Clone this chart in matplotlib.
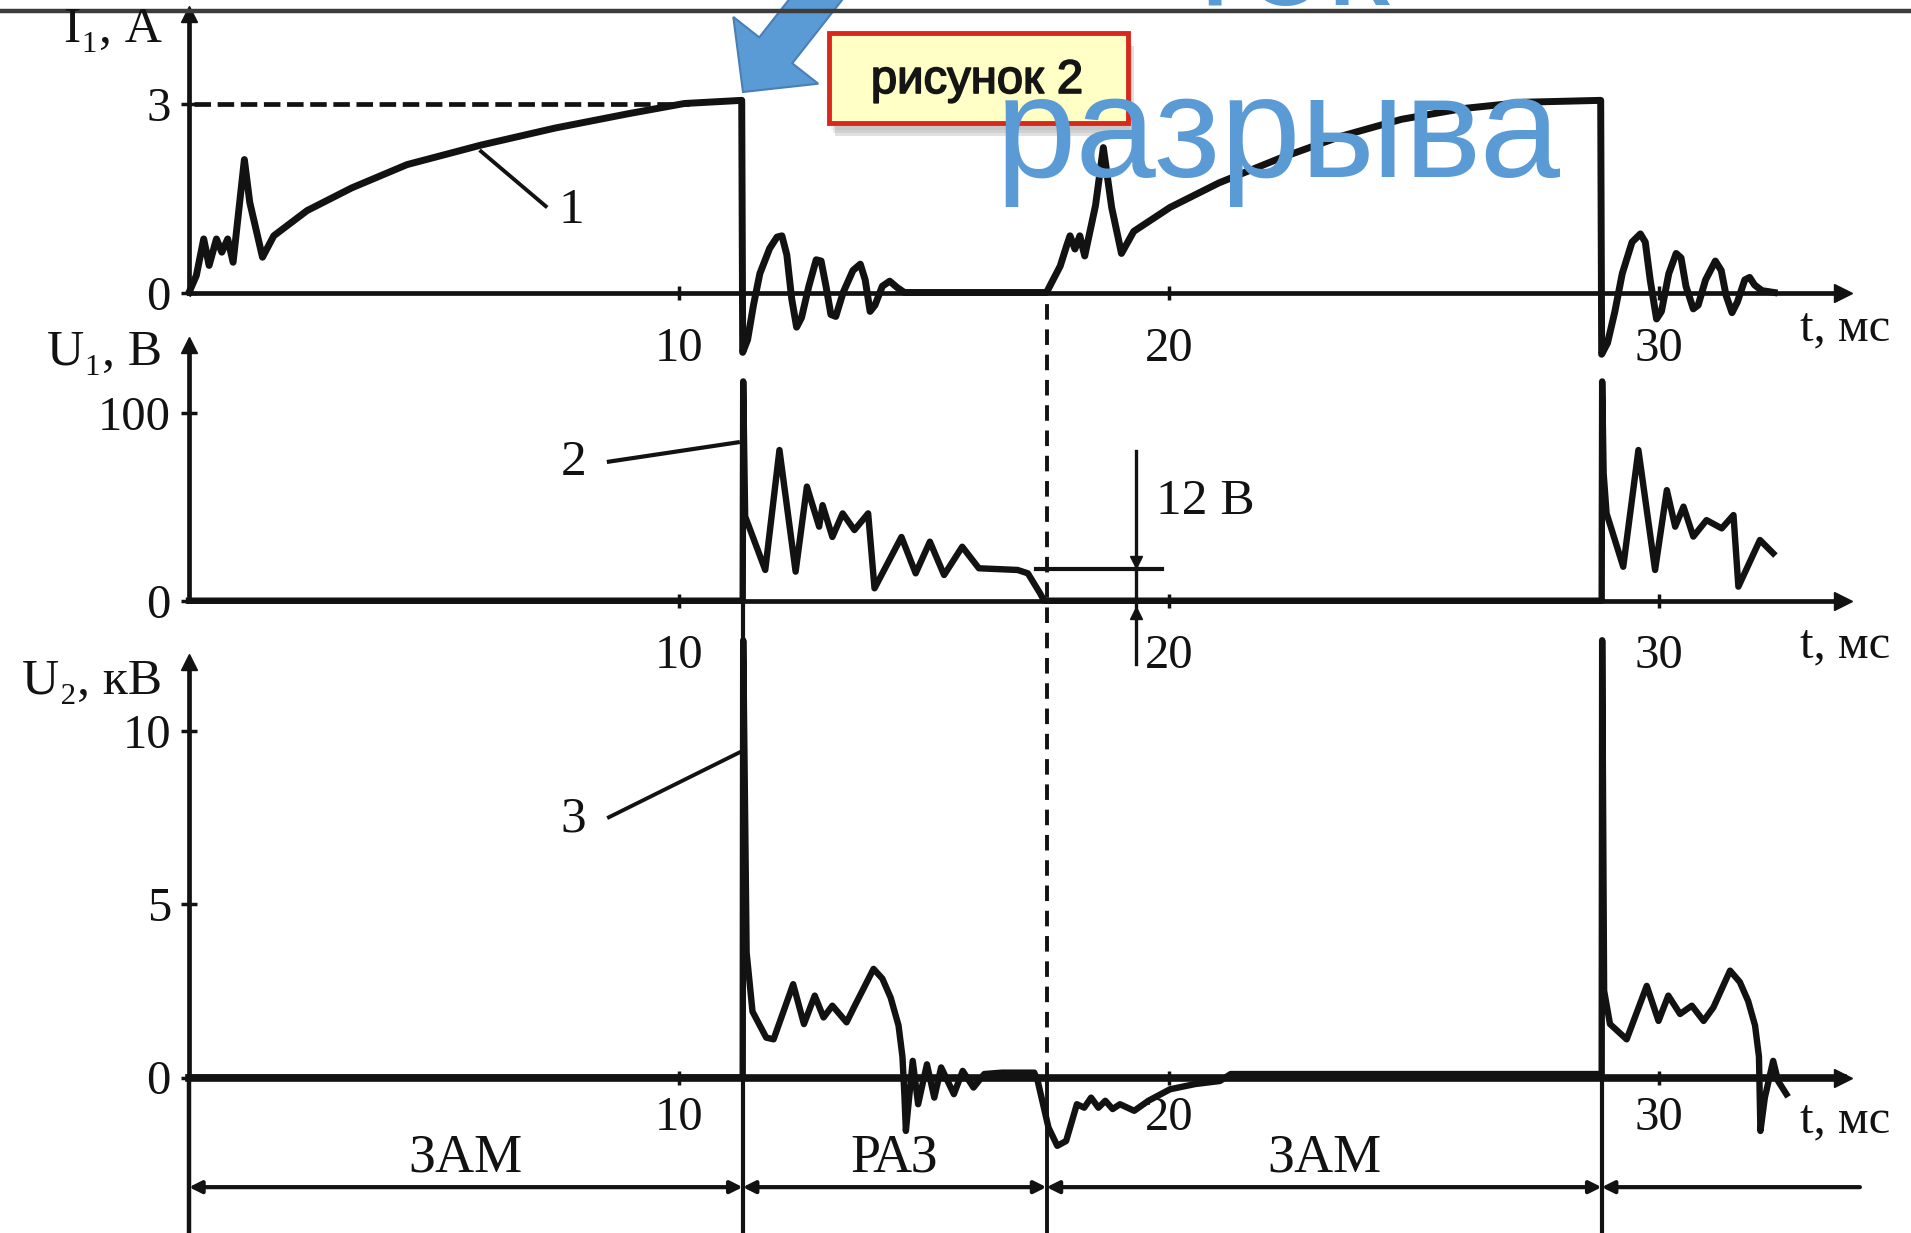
import numpy as np
import matplotlib.pyplot as plt
import matplotlib.patheffects as pe
from matplotlib.patches import Polygon, Rectangle

plt.rcParams["font.family"] = ["Liberation Serif", "DejaVu Serif"]

W, H = 1911, 1233

# switching moments, ms
t_switch = [0.0, 11.3, 17.5, 28.83]
t_axis_end = 33.75
t_bar_end = 34.1
phases = ["ЗАМ", "РАЗ", "ЗАМ"]

# curve 1 - I1, A
i1_t = [0.0, 0.15, 0.30, 0.41, 0.56, 0.67, 0.79, 0.90, 1.13, 1.24, 1.50, 1.73,
        2.41, 3.32, 4.45, 5.96, 7.47, 8.98, 10.11, 11.28,
        11.30, 11.40, 11.52, 11.65, 11.85, 12.00, 12.10, 12.20, 12.30, 12.40,
        12.50, 12.65, 12.80, 12.90, 13.00, 13.10, 13.20, 13.35, 13.55, 13.70,
        13.80, 13.90, 14.00, 14.15, 14.30, 14.45, 14.60, 17.50,
        17.78, 17.91, 17.98, 18.08, 18.18, 18.28, 18.50, 18.66, 18.83, 19.03,
        19.28, 20.02, 21.02, 22.26, 23.51, 24.75, 26.00, 27.24, 28.81,
        28.83, 28.95, 29.10, 29.25, 29.45, 29.62, 29.72, 29.82, 29.95, 30.05,
        30.20, 30.35, 30.45, 30.55, 30.70, 30.80, 30.95, 31.15, 31.27, 31.37,
        31.49, 31.60, 31.75, 31.85, 31.95, 32.10, 32.35]
i1_v = [0.0, 0.27, 0.85, 0.43, 0.85, 0.64, 0.85, 0.48, 2.11, 1.43, 0.56, 0.90,
        1.30, 1.66, 2.03, 2.34, 2.61, 2.84, 3.0, 3.05,
        -0.95, -0.75, -0.20, 0.30, 0.70, 0.88, 0.90, 0.60, -0.10, -0.55,
        -0.40, 0.10, 0.52, 0.50, 0.10, -0.35, -0.38, 0.0, 0.35, 0.45,
        0.20, -0.30, -0.20, 0.10, 0.18, 0.08, 0.0, 0.0,
        0.42, 0.74, 0.90, 0.69, 0.90, 0.58, 1.38, 2.30, 1.35, 0.62,
        0.97, 1.35, 1.74, 2.13, 2.48, 2.75, 2.92, 3.02, 3.05,
        -0.98, -0.80, -0.30, 0.30, 0.80, 0.93, 0.80, 0.20, -0.42, -0.30,
        0.30, 0.62, 0.55, 0.10, -0.26, -0.20, 0.20, 0.50, 0.35, -0.05,
        -0.32, -0.15, 0.20, 0.24, 0.12, 0.03, 0.0]

# curve 2 - U1, V
u1_t = [0.0, 11.30, 11.31, 11.35, 11.76, 12.05, 12.38, 12.61, 12.86, 12.93,
        13.13, 13.34, 13.58, 13.86, 13.99, 14.54, 14.83, 15.12, 15.41, 15.78,
        16.12, 16.91, 17.12, 17.37, 17.45, 28.83, 28.84, 28.87, 28.93, 29.27,
        29.58, 29.92, 30.16, 30.33, 30.50, 30.70, 30.97, 31.28, 31.52, 31.62,
        32.06, 32.33]
u1_v = [0, 0, 117, 45, 16.4, 80.4, 15.5, 60.9, 39.5, 51,
        34, 46.6, 37.7, 46.6, 6.6, 34, 14.6, 31.5, 13.7, 28.8,
        17.3, 16.4, 14.6, 3.9, 0, 0, 117, 68, 46.6, 18.1,
        80.4, 16.4, 59, 39.5, 50.2, 34.2, 43, 38.6, 45.7, 7.5,
        32.4, 25.3]

# curve 3 - U2, kV
u2_t = [0.0, 11.30, 11.31, 11.38, 11.50, 11.78, 11.93, 12.33, 12.55, 12.77,
        12.95, 13.13, 13.42, 13.57, 13.97, 14.15, 14.32, 14.48, 14.56, 14.60,
        14.63, 14.77, 14.88, 15.06, 15.21, 15.35, 15.61, 15.79, 16.01, 16.23,
        16.59, 17.25, 17.32, 17.54, 17.72, 17.90, 18.12, 18.27, 18.41, 18.56,
        18.70, 18.85, 19.00, 19.29, 19.58, 20.02, 20.53, 21.04, 21.26, 28.83,
        28.84, 28.88, 29.00, 29.34, 29.75, 29.99, 30.19, 30.43, 30.67, 30.91,
        31.11, 31.45, 31.65, 31.82, 31.96, 32.04, 32.07, 32.16, 32.33, 32.43,
        32.60]
u2_v = [0.0, 0.0, 12.6, 3.6, 1.9, 1.15, 1.1, 2.69, 1.54, 2.36,
        1.73, 2.07, 1.59, 2.02, 3.13, 2.85, 2.30, 1.50, 0.60, -0.50,
        -1.54, 0.48, -0.77, 0.38, -0.58, 0.29, -0.48, 0.19, -0.29, 0.1,
        0.14, 0.14, -0.1, -1.44, -1.97, -1.83, -0.77, -0.87, -0.58, -0.87,
        -0.67, -0.91, -0.77, -0.96, -0.67, -0.34, -0.19, -0.1, 0.1, 0.1,
        12.6, 2.5, 1.54, 1.1, 2.64, 1.63, 2.36, 1.83, 2.07, 1.63,
        2.02, 3.08, 2.75, 2.20, 1.50, 0.60, -1.54, -0.58, 0.48, -0.1,
        -0.48]

# "12 В" level mark on U1 panel
level_12 = 16.7
level_span = [17.28, 19.86]
dim_t = 19.32

# pixel layout of the scanned figure
T0_PX = 189.0
PX_PER_MS = 49.0
INK = "#121212"
BLUE = "#5B9BD5"


def frac(px):
    return 1.0 - px / H


def make_panel(fig, zero_px, px_per_unit, top_px, yticks, ylabels, xpad):
    ax = fig.add_axes([0, 0, 1, 1])
    ax.patch.set_alpha(0)
    ax.set_xlim(-T0_PX / PX_PER_MS, (W - T0_PX) / PX_PER_MS)
    ax.set_ylim(-(H - zero_px) / px_per_unit, zero_px / px_per_unit)
    top = (zero_px - top_px) / px_per_unit
    ax.spines["top"].set_visible(False)
    ax.spines["right"].set_visible(False)
    for s in ("left", "bottom"):
        ax.spines[s].set_position(("data", 0))
        ax.spines[s].set_linewidth(3.4)
        ax.spines[s].set_color(INK)
    ax.spines["left"].set_bounds(0, top)
    ax.spines["bottom"].set_bounds(0, t_axis_end)
    ax.plot([0], [top], marker="^", ms=11, color=INK, clip_on=False)
    ax.plot([t_axis_end], [0], marker=">", ms=13, color=INK, clip_on=False)
    ax.set_xticks([10, 20, 30])
    ax.set_xticklabels(["10", "20", "30"])
    ax.set_yticks(yticks)
    ax.set_yticklabels(ylabels)
    ax.tick_params(axis="x", direction="inout", length=10, width=2.5,
                   pad=xpad, labelsize=35, colors=INK)
    ax.tick_params(axis="y", direction="inout", length=12, width=2.5,
                   pad=7, labelsize=35, colors=INK)
    return ax


fig = plt.figure(figsize=(W / 100, H / 100), dpi=100)
fig.patch.set_facecolor("white")

ax1 = make_panel(fig, 292.5, 63.0, 14, [0, 3], ["0", "3"], 20)
ax2 = make_panel(fig, 600.7, 1.874, 345, [0, 100], ["0", "100"], 19)
ax3 = make_panel(fig, 1077.5, 34.7, 662, [0, 5, 10], ["0", "5", "10"], 8)
ax3.spines["bottom"].set_linewidth(5.5)

# curves
ax1.plot(i1_t, i1_v, color=INK, lw=5, solid_joinstyle="round")
ax2.plot(u1_t, u1_v, color=INK, lw=4.6, solid_joinstyle="round")
ax3.plot(u2_t, u2_v, color=INK, lw=4.6, solid_joinstyle="round")

# dashed 3 A level
ax1.plot([0.1, 10.2], [3.0, 3.0], color=INK, lw=3.4, ls=(0, (3.5, 1.4)))

# curve labels with leaders
ax1.plot([5.96, 7.28], [2.24, 1.37], color=INK, lw=2.8)
ax1.text(7.81, 1.30, "1", fontsize=37, ha="center", va="center", color=INK)
ax2.plot([8.57, 11.2], [74.2, 84.5], color=INK, lw=3)
ax2.text(7.84, 73.5, "2", fontsize=37, ha="center", va="center", color=INK)
ax3.plot([8.57, 11.25], [7.5, 9.38], color=INK, lw=2.8)
ax3.text(7.84, 7.45, "3", fontsize=37, ha="center", va="center", color=INK)

# 12 В level mark
ax2.plot(level_span, [level_12, level_12], color=INK, lw=3)
ax2.plot([dim_t, dim_t], [80, -34], color=INK, lw=2.4)
ax2.plot([dim_t], [level_12 + 4], marker="v", ms=9, color=INK)
ax2.plot([dim_t], [-6.5], marker="^", ms=9, color=INK)
ax2.text(19.73, 52.7, "12 В", fontsize=37, ha="left", va="center", color=INK)

# boundaries between phases
ax3.axvline(t_switch[0], ymin=0, ymax=frac(1077.5), color=INK, lw=3.2)
ax3.axvline(t_switch[1], ymin=0, ymax=frac(385), color=INK, lw=3)
ax3.axvline(t_switch[2], ymin=frac(1077.5), ymax=frac(292.5), color=INK,
            lw=2.8, ls=(0, (4, 2.5)))
ax3.axvline(t_switch[2], ymin=0, ymax=frac(1077.5), color=INK, lw=2.8)
ax3.axvline(t_switch[3], ymin=0, ymax=frac(640), color=INK, lw=3)

# phase bar
bar_y = -3.16
edges = t_switch + [t_bar_end]
for k in range(len(edges) - 1):
    style = "<|-|>" if k < len(edges) - 2 else "<|-"
    ax3.annotate("", xy=(edges[k + 1], bar_y), xytext=(edges[k], bar_y),
                 arrowprops=dict(arrowstyle=style, color=INK, lw=3,
                                 mutation_scale=18, shrinkA=0, shrinkB=0))
for k, name in enumerate(phases):
    ax3.text((edges[k] + edges[k + 1]) / 2, -2.32, name, fontsize=39,
             ha="center", va="center", color=INK)

# overlay in pixels for slide decoration and axis names
deco = fig.add_axes([0, 0, 1, 1])
deco.set_xlim(0, W)
deco.set_ylim(H, 0)
deco.axis("off")
deco.patch.set_alpha(0)

for name, y in [("I₁, А", 30), ("U₁, В", 353), ("U₂, кВ", 682)]:
    deco.text(162, y, name, fontsize=37, ha="right", va="center", color=INK)
for y in [328, 645, 1120]:
    deco.text(1800, y, "t, мс", fontsize=35, ha="left", va="center", color=INK)

deco.plot([0, W], [10.5, 10.5], color="#3c3c3c", lw=3.2, solid_capstyle="butt")

# callout box
for k, a in enumerate([0.10, 0.15, 0.22]):
    deco.add_patch(Rectangle((829 + 2 + k * 2, 36 + 4 + k * 3), 299, 90,
                             facecolor="#777777", edgecolor="none", alpha=a))
deco.add_patch(Rectangle((829, 33), 299, 90, facecolor="#FFFFC6",
                         edgecolor="#D8281E", lw=3.5))
deco.text(977, 81, "рисунок 2", fontsize=34, family="Liberation Sans",
          ha="center", va="center", color="#151515",
          path_effects=[pe.withStroke(linewidth=1.2, foreground="#151515")])

# blue arrow
tip = np.array([743.0, 92.0])
d = np.array([-0.618, 0.786])
p = np.array([0.786, 0.618])
base = tip - 53 * d
tail = base - 90 * d
pts = [tail + 21 * p, base + 21 * p, base + 54 * p, tip,
       base - 54 * p, base - 21 * p, tail - 21 * p]
deco.add_patch(Polygon(pts, closed=True, facecolor=BLUE, edgecolor="#4A7FB5",
                       lw=1.5, clip_on=False))

deco.text(996, 177, "разрыва", fontsize=104, family="Liberation Sans",
          ha="left", va="baseline", color=BLUE)
deco.text(1286, 5, "ток", fontsize=104, family="Liberation Sans",
          ha="center", va="baseline", color=BLUE)

fig.savefig("out.png", dpi=100)
